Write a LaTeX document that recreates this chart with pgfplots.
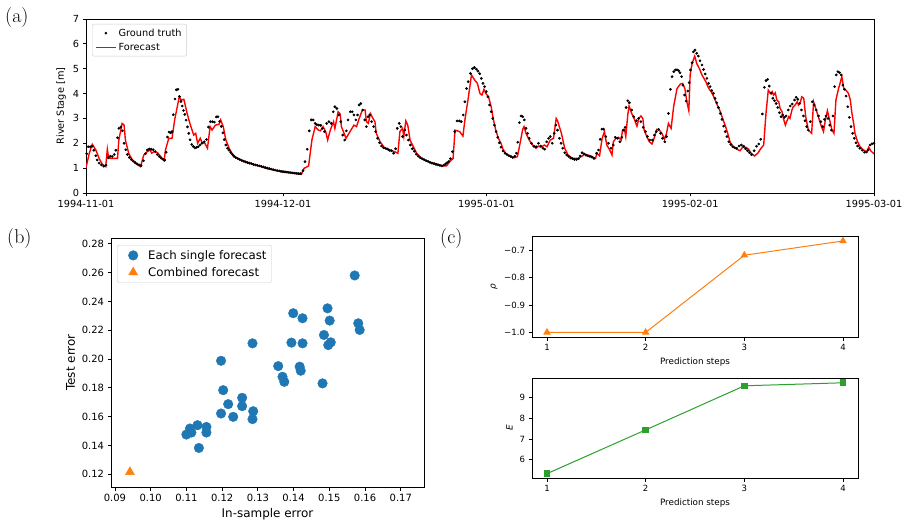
\documentclass[border=0pt]{standalone}
\usepackage{fontspec}
\usepackage{pgfplots}
\pgfplotsset{compat=1.18}
\newfontfamily\dv{DejaVu Sans}
\definecolor{mblue}{HTML}{1F77B4}
\definecolor{morange}{HTML}{FF7F0E}
\definecolor{mgreen}{HTML}{2CA02C}
\pgfplotsset{mpl/.style={scale only axis, axis line style={line width=0.8bp, black},
  tick align=outside, tick pos=left, major tick length=3.5bp,
  tick style={line width=0.8bp, black},
  /pgf/number format/assume math mode=true},
  dotlegA/.style={legend image code/.code={\path[draw=none,fill=none] (0bp,0bp) -- (20bp,0bp); \draw[mark repeat=2, mark phase=2, ##1, only marks] plot coordinates {(0bp,0bp)(10bp,0bp)(20bp,0bp)};}},
  lineleg/.style={legend image code/.code={\draw[##1, draw=red, line width=1.4bp] (0bp,0bp) -- (20bp,0bp);}},
  dotlegB/.style={legend image code/.code={\path[draw=none,fill=none] (0bp,0bp) -- (26bp,0bp); \draw[mark repeat=2, mark phase=2, ##1, only marks] plot coordinates {(0bp,0bp)(13bp,0bp)(26bp,0bp)};}}
}
\begin{document}
\begin{tikzpicture}
\path[use as bounding box] (0bp,0bp) rectangle (909bp,-529bp);
\node[anchor=base west,inner sep=0pt] at (5bp,-22bp) {\fontsize{20}{24}\selectfont (a)};
\node[anchor=base west,inner sep=0pt] at (7bp,-243bp) {\fontsize{20}{24}\selectfont (b)};
\node[anchor=base west,inner sep=0pt] at (440bp,-243bp) {\fontsize{20}{24}\selectfont (c)};

% ---------------- (a) ----------------
\begin{axis}[mpl, at={(86bp,-19bp)}, anchor=north west, width=788bp, height=174bp,
  xmin=0, xmax=120, ymin=0, ymax=7,
  xtick={0,30,61,92,120}, xticklabels={1994-11-01,1994-12-01,1995-01-01,1995-02-01,1995-03-01},
  ytick={0,1,2,3,4,5,6,7},
  every tick label/.append style={font=\dv\fontsize{9.8}{11}\selectfont},
  ylabel={River Stage [m]}, ylabel style={font=\dv\fontsize{9.8}{11}\selectfont},
  legend cell align=left,
  legend style={at={(0,1)}, anchor=north west, xshift=6bp, yshift=-5bp, draw=black!20,
    rounded corners=2bp, font=\dv\fontsize{9.8}{11}\selectfont, inner xsep=3bp, inner ysep=2.5bp, row sep=1.5bp}]
\addplot[only marks, mark=*, mark size=1.15bp, black, mark options={draw=black, fill=black}, dotlegA]
coordinates {
(0.1,1.58)(0.35,1.86)(0.65,1.86)(0.95,1.88)(1.2,1.72)(1.5,1.5)(1.7,1.33)(2.0,1.2)(2.35,1.13)(2.7,1.08)
(3.05,1.12)(3.4,1.42)(3.7,1.48)(4.0,1.47)(4.3,1.55)(4.55,1.72)(4.8,2.22)(5.0,2.6)(5.3,2.65)(5.55,2.5)
(5.8,2.0)(6.05,1.74)(6.3,1.55)(6.6,1.43)(6.9,1.35)(7.2,1.28)(7.5,1.22)(7.8,1.17)(8.1,1.13)(8.4,1.1)
(8.75,1.3)(9.05,1.58)(9.35,1.73)(9.65,1.77)(9.95,1.76)(10.25,1.74)(10.55,1.67)(10.85,1.55)(11.15,1.47)(11.45,1.4)
(11.75,1.35)(12.0,1.32)(12.2,1.64)(12.4,2.25)(12.65,2.45)(12.9,2.42)(13.1,2.47)(13.3,3.15)(13.55,3.78)(13.75,4.15)
(14.0,4.17)(14.25,3.88)(14.45,3.68)(14.65,3.5)(14.85,3.32)(15.05,3.16)(15.25,2.93)(15.45,2.66)(15.65,2.4)(15.85,2.14)
(16.1,1.95)(16.35,1.87)(16.6,1.81)(16.85,1.84)(17.1,1.86)(17.35,1.93)(17.65,2.0)(18.0,2.06)(18.35,2.15)(18.65,2.65)
(18.95,2.87)(19.25,2.87)(19.55,2.85)(19.85,3.06)(20.1,3.07)(20.35,2.88)(20.6,2.68)(20.85,2.42)(21.05,2.15)(21.3,1.93)
(21.55,1.8)(21.8,1.72)(22.05,1.63)(22.3,1.55)(22.55,1.48)(22.8,1.43)(23.1,1.39)(23.4,1.35)(23.7,1.31)(24.0,1.28)
(24.3,1.25)(24.6,1.22)(24.9,1.2)(25.2,1.18)(25.5,1.15)(25.8,1.13)(26.1,1.11)(26.4,1.09)(26.7,1.07)(27.0,1.05)
(27.3,1.02)(27.6,1.0)(27.9,0.98)(28.2,0.96)(28.5,0.94)(28.8,0.92)(29.1,0.9)(29.4,0.89)(29.7,0.87)(30.0,0.86)
(30.3,0.85)(30.6,0.84)(30.9,0.83)(31.2,0.82)(31.5,0.81)(31.8,0.8)(32.1,0.79)(32.4,0.78)(32.7,0.78)(33.05,0.9)
(33.35,1.26)(33.7,1.76)(34.0,2.5)(34.3,2.94)(34.6,2.94)(34.9,2.8)(35.15,2.75)(35.45,2.73)(35.75,2.72)(36.0,2.6)
(36.3,2.47)(36.65,2.8)(37.0,2.87)(37.35,2.8)(37.65,3.27)(37.9,3.47)(38.2,3.4)(38.5,3.14)(38.8,2.87)(39.1,2.33)
(39.4,2.13)(39.65,2.5)(39.9,2.94)(40.25,3.27)(40.55,3.27)(40.8,3.14)(41.1,2.94)(41.35,3.14)(41.6,3.54)(41.85,3.6)
(42.15,3.34)(42.45,2.94)(42.7,2.67)(42.95,3.07)(43.2,3.14)(43.5,2.87)(43.8,2.67)(44.1,2.47)(44.4,2.2)(44.7,2.02)
(45.0,1.89)(45.3,1.82)(45.6,1.8)(45.9,1.77)(46.2,1.72)(46.5,1.7)(46.85,1.6)(47.15,1.78)(47.4,2.6)(47.7,2.8)
(47.95,2.67)(48.2,2.27)(48.55,2.53)(48.8,2.33)(49.1,2.13)(49.4,1.93)(49.7,1.78)(50.0,1.68)(50.3,1.56)(50.6,1.48)
(50.9,1.42)(51.2,1.38)(51.5,1.34)(51.8,1.3)(52.1,1.27)(52.4,1.23)(52.7,1.2)(53.0,1.18)(53.3,1.15)(53.6,1.13)
(53.9,1.11)(54.2,1.09)(54.5,1.12)(54.75,1.17)(55.0,1.22)(55.25,1.27)(55.5,1.38)(55.8,1.66)(56.15,2.47)(56.5,2.9)
(56.85,2.9)(57.15,2.87)(57.45,3.14)(57.7,3.67)(57.95,4.2)(58.2,4.48)(58.55,4.81)(58.85,5.0)(59.15,5.05)(59.45,4.98)
(59.7,4.9)(59.95,4.8)(60.2,4.61)(60.45,4.41)(60.7,4.28)(60.95,4.08)(61.2,3.87)(61.45,3.54)(61.7,3.27)(61.95,3.0)
(62.2,2.73)(62.45,2.47)(62.7,2.24)(62.95,2.02)(63.2,1.84)(63.5,1.69)(63.8,1.6)(64.1,1.55)(64.4,1.5)(64.7,1.47)
(65.0,1.43)(65.3,1.48)(65.55,1.6)(65.75,2.04)(66.0,2.83)(66.25,3.1)(66.5,3.07)(66.75,2.94)(67.0,2.6)(67.25,2.4)
(67.5,2.2)(67.85,2.0)(68.2,1.88)(68.55,1.86)(68.9,2.0)(69.25,1.89)(69.6,1.8)(69.85,1.76)(70.15,2.06)(70.45,2.2)
(70.7,2.27)(71.0,2.0)(71.3,2.4)(71.55,2.73)(71.8,2.53)(72.1,2.2)(72.35,2.0)(72.6,1.8)(72.9,1.62)(73.2,1.53)
(73.5,1.47)(73.8,1.41)(74.1,1.38)(74.4,1.35)(74.7,1.35)(75.0,1.38)(75.25,1.49)(75.55,1.62)(75.85,1.57)(76.15,1.52)
(76.45,1.49)(76.75,1.47)(77.05,1.44)(77.35,1.39)(77.75,1.6)(78.05,1.73)(78.3,2.16)(78.55,2.57)(78.8,2.57)(79.15,2.27)
(79.55,2.0)(79.95,1.8)(80.3,1.93)(80.6,2.24)(80.95,2.2)(81.3,2.06)(81.6,2.24)(81.85,2.53)(82.1,2.64)(82.25,3.44)
(82.5,3.71)(82.75,3.63)(83.1,3.34)(83.4,3.07)(83.8,2.91)(84.15,3.0)(84.5,2.87)(84.85,2.64)(85.2,2.47)(85.5,2.27)
(85.85,2.13)(86.25,2.13)(86.55,2.33)(86.85,2.47)(87.2,2.56)(87.5,2.4)(87.8,2.2)(88.15,2.06)(88.4,2.27)(88.7,3.2)
(89.0,4.17)(89.25,4.68)(89.5,4.88)(89.75,4.95)(90.0,4.96)(90.25,4.92)(90.45,4.84)(90.7,4.68)(90.9,4.34)(91.15,3.94)
(91.4,3.7)(91.65,4.1)(91.85,4.44)(92.05,4.95)(92.3,5.24)(92.5,5.68)(92.75,5.75)(93.0,5.62)(93.25,5.51)(93.5,5.32)
(93.8,5.15)(94.05,4.97)(94.3,4.79)(94.55,4.61)(94.8,4.41)(95.05,4.28)(95.3,4.12)(95.55,4.01)(95.8,3.81)(96.05,3.63)
(96.3,3.44)(96.6,3.2)(96.85,2.96)(97.1,2.69)(97.35,2.47)(97.6,2.27)(97.9,2.06)(98.2,1.95)(98.5,1.86)(98.8,1.82)
(99.1,1.8)(99.45,1.89)(99.8,1.93)(100.15,1.88)(100.45,1.78)(100.75,1.7)(101.05,1.62)(101.35,1.54)(101.75,1.7)(102.1,1.88)
(102.45,1.97)(102.75,2.16)(103.0,3.18)(103.3,4.25)(103.55,4.52)(103.8,4.57)(104.05,4.3)(104.35,4.01)(104.6,3.81)(104.85,3.71)
(105.1,3.6)(105.35,3.44)(105.6,3.23)(105.85,3.07)(106.1,3.14)(106.35,3.04)(106.6,3.1)(106.95,3.34)(107.25,3.5)(107.55,3.58)
(107.9,3.74)(108.15,3.85)(108.4,3.77)(108.7,3.6)(108.95,3.34)(109.25,3.1)(109.5,2.91)(109.75,2.67)(110.0,2.53)(110.3,2.87)
(110.6,3.67)(110.9,3.54)(111.2,3.34)(111.55,3.1)(111.9,2.87)(112.2,2.67)(112.45,2.96)(112.7,3.1)(113.0,3.0)(113.25,2.73)
(113.5,2.53)(113.75,3.1)(114.0,4.28)(114.25,4.75)(114.5,4.88)(114.75,4.84)(115.0,4.75)(115.25,4.34)(115.5,4.17)(115.75,3.9)
(116.0,3.47)(116.25,3.04)(116.5,2.67)(116.75,2.4)(117.0,2.2)(117.25,2.02)(117.5,1.89)(117.85,1.8)(118.2,1.72)(118.55,1.64)
(118.85,1.65)(119.1,1.73)(119.4,1.93)(119.7,1.98)(120.0,2.0)
};
\addlegendentry{Ground truth}
\addplot[color=red, draw=red, line width=1.4bp, mark=none, lineleg]
coordinates {
(0,1.02)(0.5,1.6)(0.95,1.96)(1.5,1.73)(2.0,1.39)(2.5,1.15)(3.0,1.06)(3.25,1.76)(3.45,1.39)(3.8,1.39)
(4.8,1.39)(5.0,2.13)(5.5,2.8)(5.8,2.73)(6.0,2.13)(6.5,1.6)(7.05,1.33)(7.55,1.19)(8.3,1.06)(8.8,1.53)
(9.3,1.66)(9.75,1.73)(10.0,1.6)(10.35,1.66)(10.9,1.62)(11.4,1.46)(11.9,1.3)(12.1,1.73)(12.6,2.2)(13.1,2.2)
(13.5,2.94)(14.2,3.87)(14.5,3.74)(14.9,3.77)(15.4,3.2)(15.9,2.73)(16.4,2.33)(16.7,2.4)(17.0,2.0)(17.4,2.2)
(17.7,2.02)(18.1,2.0)(18.5,1.8)(18.9,2.67)(19.2,2.53)(19.7,2.73)(20.25,2.76)(20.5,2.94)(20.9,2.67)(21.3,2.13)
(21.8,1.8)(22.5,1.46)(23.6,1.33)(25.1,1.19)(27.6,0.99)(30.2,0.84)(32.8,0.75)(33.2,0.99)(33.9,1.09)(34.4,2.13)
(34.9,2.67)(35.4,2.53)(35.7,2.5)(36.1,2.67)(36.5,2.47)(36.8,2.13)(37.2,2.53)(37.4,2.67)(37.7,2.87)(37.9,2.6)
(38.4,3.27)(38.7,3.18)(38.9,2.67)(39.6,2.2)(40.2,2.47)(40.8,2.73)(41.2,2.67)(41.6,3.0)(42.1,3.34)(42.5,3.34)
(42.7,2.87)(43.0,2.8)(43.3,3.2)(43.7,3.0)(44.0,2.87)(44.2,2.4)(44.8,2.06)(45.5,1.8)(46.3,1.73)(47.0,1.66)
(47.5,1.6)(47.8,2.47)(48.2,2.6)(48.4,2.27)(48.7,2.9)(49.0,2.73)(49.35,2.13)(49.85,1.86)(50.35,1.6)(51.1,1.39)
(52.1,1.26)(53.4,1.17)(54.4,1.09)(54.9,1.09)(55.4,1.26)(55.9,1.39)(56.2,2.53)(56.9,2.47)(57.4,2.29)(57.7,2.94)
(58.2,3.8)(58.7,4.75)(59.2,4.54)(59.6,4.41)(60.0,4.0)(60.3,3.94)(60.6,4.17)(60.9,4.0)(61.3,3.87)(61.7,3.47)
(62.0,3.0)(62.4,2.53)(62.8,2.2)(63.2,2.0)(63.5,1.76)(64.0,1.57)(64.7,1.46)(65.2,1.42)(65.7,1.46)(66.1,2.0)
(66.5,2.56)(66.7,2.67)(67.0,2.4)(67.5,2.13)(68.0,1.93)(68.5,1.8)(68.9,1.89)(69.3,1.84)(69.8,1.93)(70.2,1.86)
(70.7,2.13)(71.2,2.2)(71.6,3.0)(71.8,2.91)(72.4,2.4)(72.9,1.8)(73.4,1.53)(74.1,1.39)(74.9,1.39)(75.6,1.49)
(75.9,1.57)(76.4,1.53)(76.9,1.49)(77.6,1.39)(77.8,1.6)(78.2,1.49)(78.6,2.2)(78.95,2.47)(79.3,1.93)(79.7,1.76)
(80.1,1.53)(80.3,2.06)(80.7,2.2)(81.1,2.24)(81.5,2.13)(81.7,2.53)(82.0,2.56)(82.2,2.27)(82.5,3.14)(82.7,3.5)
(83.1,3.2)(83.4,3.04)(83.9,2.69)(84.2,3.0)(84.5,3.1)(84.8,3.0)(85.0,2.53)(85.4,2.27)(85.8,2.06)(86.2,1.97)
(86.6,2.27)(86.9,2.56)(87.3,2.53)(87.7,2.4)(88.1,2.16)(88.4,2.4)(88.7,2.8)(89.1,2.6)(89.5,3.5)(90.0,4.2)
(90.5,4.38)(90.85,4.41)(91.2,4.2)(91.5,3.67)(91.8,3.31)(92.0,4.75)(92.3,5.21)(92.7,5.51)(93.0,5.21)(93.4,5.01)
(93.8,4.75)(94.1,4.61)(94.4,4.48)(94.7,4.28)(95.0,4.14)(95.2,4.08)(95.6,3.87)(95.8,3.74)(96.2,3.5)(96.6,3.27)
(96.95,3.0)(97.4,2.67)(97.8,2.33)(98.1,2.02)(98.6,1.86)(99.1,1.76)(99.6,1.7)(100.0,1.84)(100.5,1.84)(100.9,1.76)
(101.3,1.6)(101.8,1.49)(102.3,1.6)(102.8,1.8)(103.2,1.93)(103.55,3.2)(103.9,4.14)(104.2,4.01)(104.5,4.08)(104.7,3.94)
(104.97,4.03)(105.2,3.74)(105.5,3.67)(105.7,3.4)(106.0,3.27)(106.2,3.0)(106.5,2.73)(106.7,2.87)(107.0,3.07)(107.2,3.0)
(107.5,3.34)(107.7,3.47)(108.0,3.54)(108.3,3.67)(108.5,3.54)(108.8,3.67)(109.0,3.87)(109.3,3.81)(109.6,3.07)(110.0,2.53)
(110.5,2.4)(110.8,3.67)(111.2,3.34)(111.6,3.0)(112.0,2.67)(112.3,2.47)(112.6,2.94)(112.9,3.31)(113.3,2.87)(113.6,2.53)
(113.9,2.4)(114.2,3.74)(114.6,4.2)(114.9,4.48)(115.1,4.68)(115.4,4.2)(115.7,4.14)(116.1,4.01)(116.4,3.74)(116.6,3.27)
(116.9,2.8)(117.1,2.4)(117.5,2.06)(117.9,1.86)(118.4,1.73)(118.9,1.66)(119.2,1.84)(119.5,1.7)(120.0,1.57)
};
\addlegendentry{Forecast}
\end{axis}

% ---------------- (b) ----------------
\begin{axis}[mpl, at={(111bp,-238bp)}, anchor=north west, width=313bp, height=249bp,
  xmin=0.0889, xmax=0.1765, ymin=0.1112, ymax=0.284,
  xtick={0.09,0.10,0.11,0.12,0.13,0.14,0.15,0.16,0.17},
  xticklabels={0.09,0.10,0.11,0.12,0.13,0.14,0.15,0.16,0.17},
  ytick={0.12,0.14,0.16,0.18,0.20,0.22,0.24,0.26,0.28},
  yticklabels={0.12,0.14,0.16,0.18,0.20,0.22,0.24,0.26,0.28},
  every tick label/.append style={font=\dv\fontsize{10}{12}\selectfont},
  xlabel={In-sample error}, ylabel={Test error},
  label style={font=\dv\fontsize{12}{14}\selectfont},
  legend cell align=left,
  legend style={at={(0,1)}, anchor=north west, xshift=6bp, yshift=-7bp, draw=black!20,
    rounded corners=2bp, font=\dv\fontsize{11.8}{14}\selectfont, inner xsep=3bp, inner ysep=3bp, row sep=2.5bp}]
\addplot[only marks, mark=*, mark size=4.8bp, mblue, mark options={draw=mblue, fill=mblue}, dotlegB]
coordinates {
(0.1571,0.2580)(0.1495,0.2352)(0.1501,0.2267)(0.1399,0.2318)(0.1425,0.2283)(0.1581,0.2248)(0.1585,0.2202)
(0.1485,0.2167)(0.1394,0.2114)(0.1425,0.2109)(0.1285,0.2109)(0.1497,0.2097)(0.1504,0.2116)(0.1357,0.1951)
(0.1417,0.1947)(0.1420,0.1919)(0.1369,0.1877)(0.1374,0.1842)(0.1481,0.1831)(0.1197,0.1988)(0.1203,0.1784)
(0.1217,0.1687)(0.1256,0.1731)(0.1256,0.1673)(0.1197,0.1622)(0.1231,0.1599)(0.1287,0.1638)(0.1285,0.1583)
(0.1156,0.1529)(0.1156,0.1490)(0.1131,0.1541)(0.1110,0.1518)(0.1114,0.1490)(0.1100,0.1476)(0.1135,0.1383)
};
\addlegendentry{Each single forecast}
\addplot[only marks, mark=triangle*, mark size=5.2bp, morange, mark options={draw=morange, fill=morange}, dotlegB]
coordinates {(0.0942,0.1216)};
\addlegendentry{Combined forecast}
\end{axis}

% ---------------- (c) top ----------------
\begin{axis}[mpl, at={(532bp,-236bp)}, anchor=north west, width=326bp, height=101bp,
  xmin=0.848, xmax=4.152, ymin=-1.0167, ymax=-0.649, clip=false,
  xtick={1,2,3,4}, ytick={-1,-0.9,-0.8,-0.7}, yticklabels={−1.0,−0.9,−0.8,−0.7},
  every tick label/.append style={font=\dv\fontsize{8.6}{10}\selectfont},
  xlabel={Prediction steps}, ylabel={\itshape ρ},
  label style={font=\dv\fontsize{8.8}{10}\selectfont}]
\addplot[morange, line width=1bp, mark=triangle*, mark size=3.4bp, mark options={fill=morange}]
coordinates {(1,-1.0)(2,-1.0)(3,-0.719)(4,-0.667)};
\end{axis}

% ---------------- (c) bottom ----------------
\begin{axis}[mpl, at={(532bp,-378bp)}, anchor=north west, width=326bp, height=100bp,
  xmin=0.848, xmax=4.152, ymin=5.12, ymax=9.93, clip=false,
  xtick={1,2,3,4}, ytick={6,7,8,9},
  every tick label/.append style={font=\dv\fontsize{8.6}{10}\selectfont},
  xlabel={Prediction steps}, ylabel={\itshape E},
  label style={font=\dv\fontsize{8.8}{10}\selectfont}]
\addplot[mgreen, line width=1bp, mark=square*, mark size=2.8bp, mark options={fill=mgreen}]
coordinates {(1,5.33)(2,7.435)(3,9.555)(4,9.70)};
\end{axis}
\end{tikzpicture}
\end{document}
